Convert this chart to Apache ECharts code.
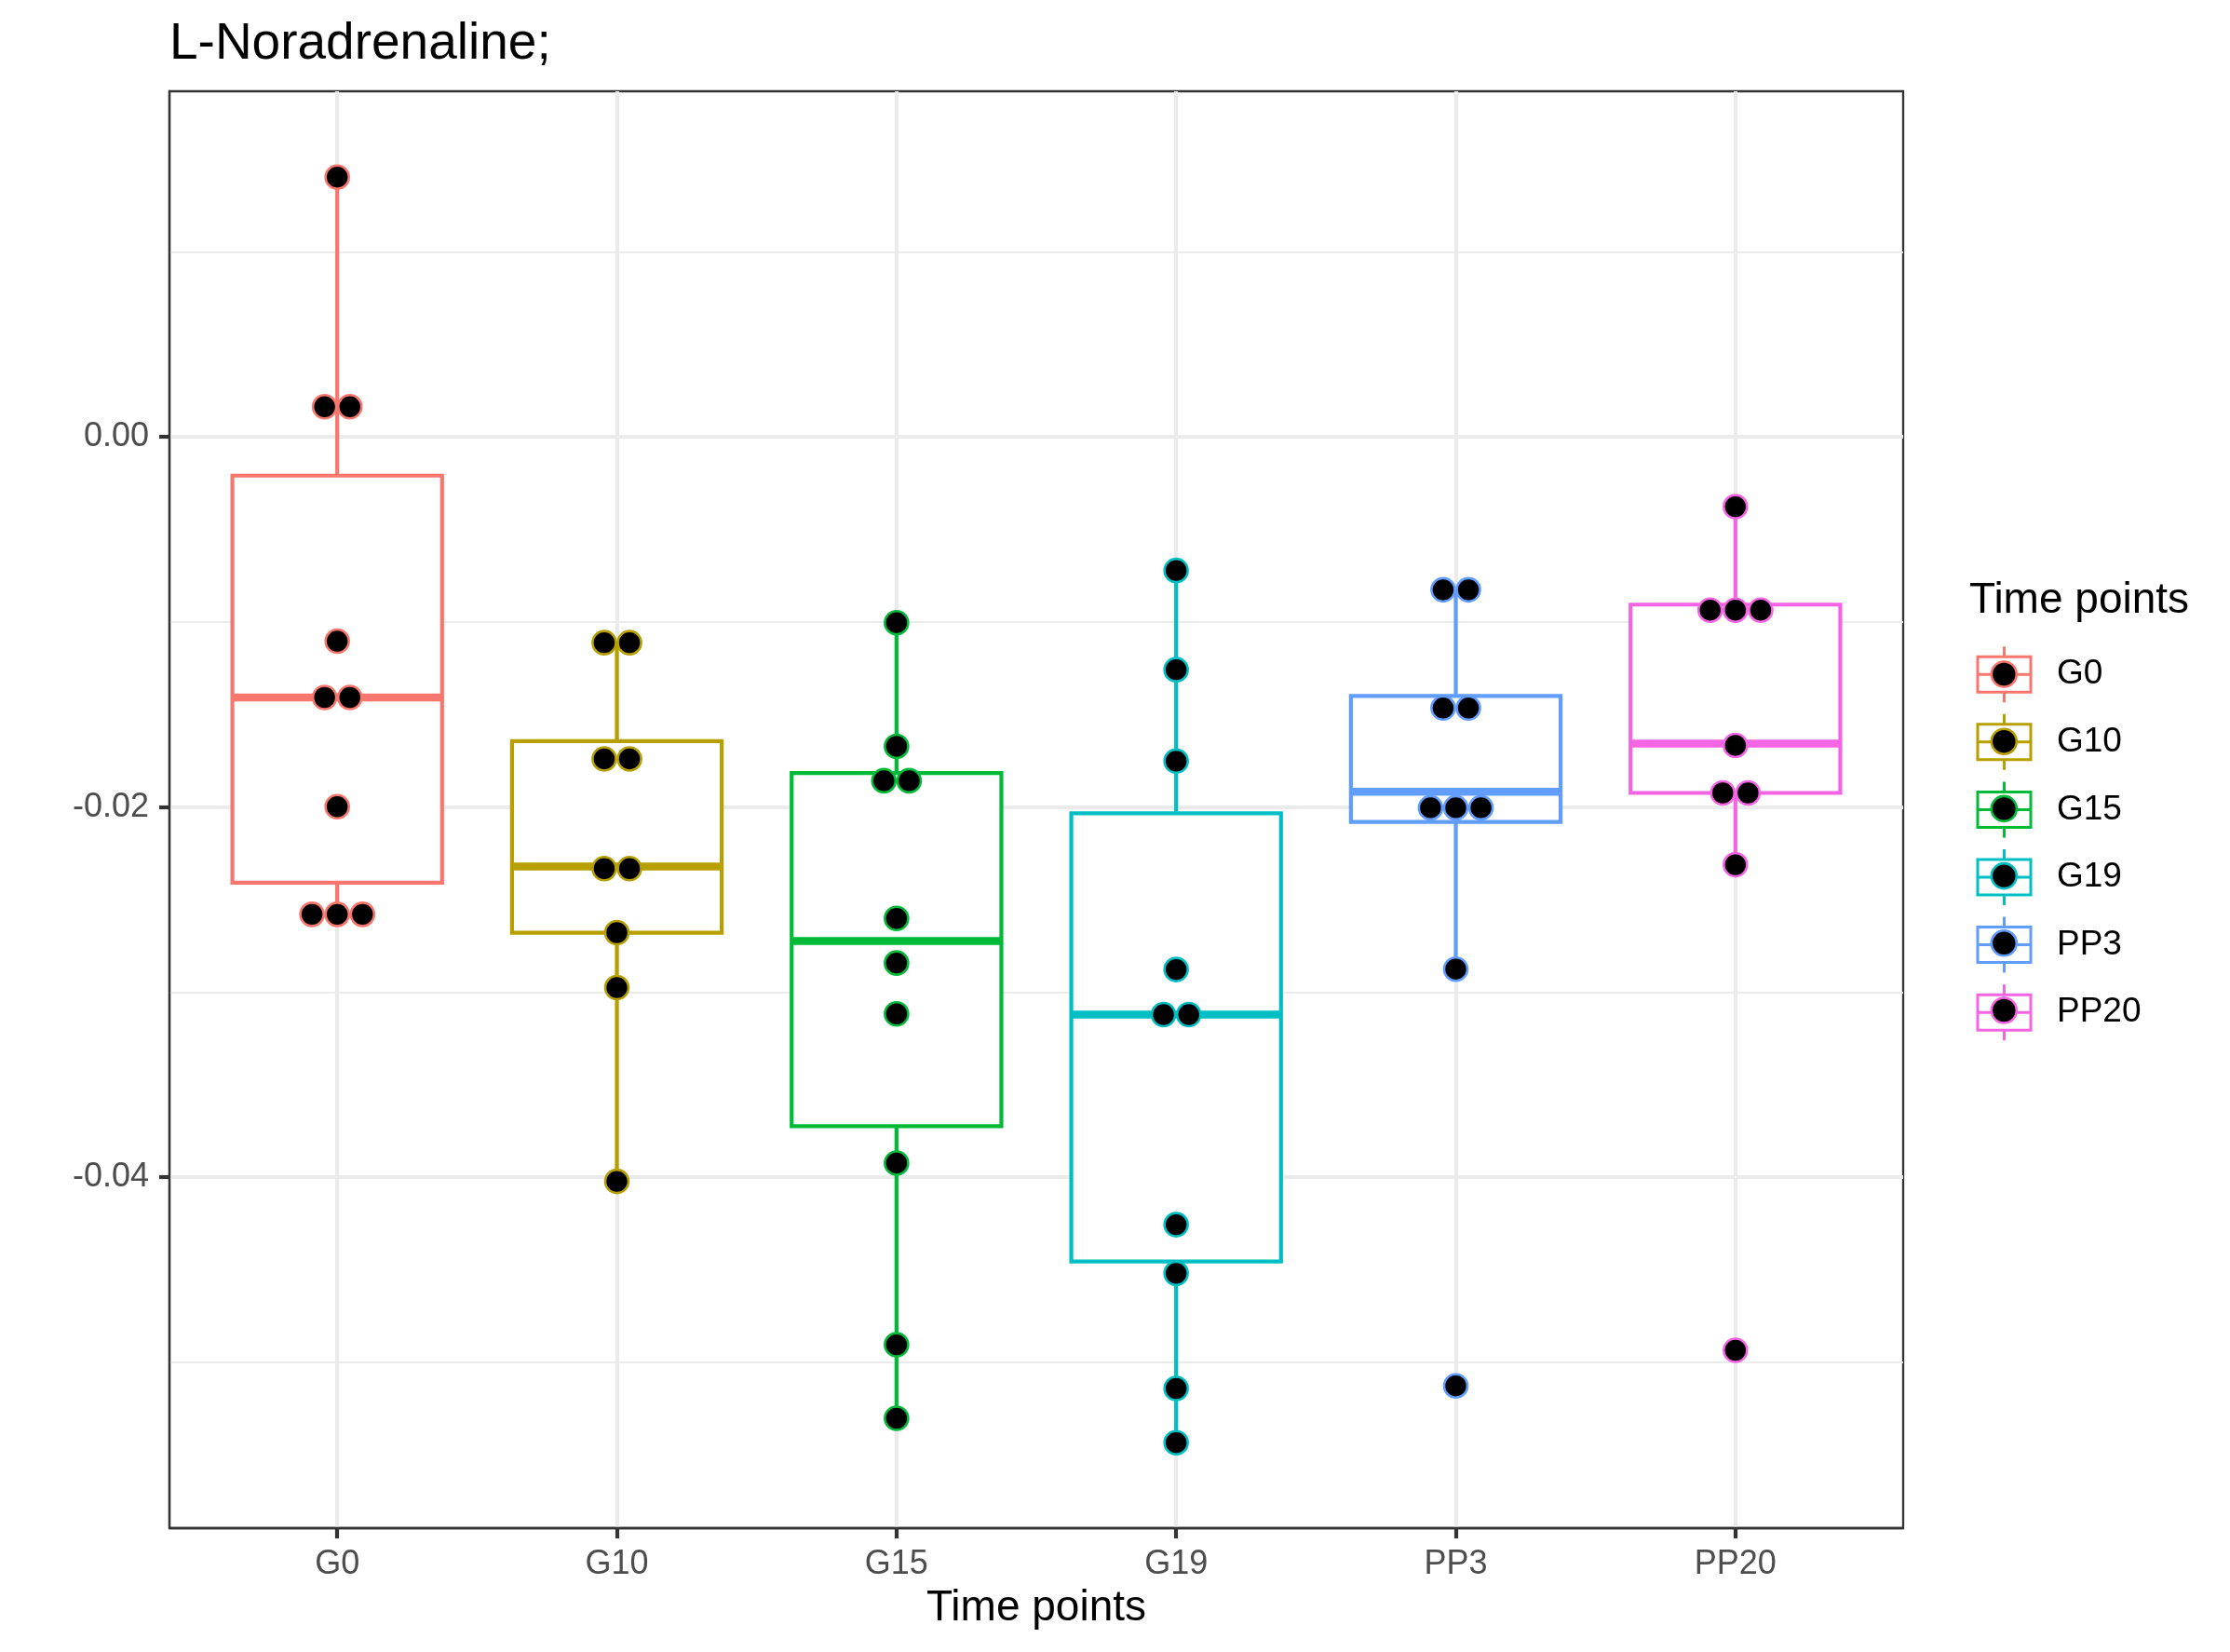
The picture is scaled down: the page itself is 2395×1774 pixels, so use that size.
<!DOCTYPE html>
<html>
<head>
<meta charset="utf-8">
<script src="https://cdn.jsdelivr.net/npm/echarts@6/dist/echarts.min.js"></script>
<style>
html,body{margin:0;padding:0;background:#fff;}
#chart{width:2395px;height:1774px;}
</style>
</head>
<body>
<div id="chart"></div>
<script>
// ---- data ----
const categories = ['G0', 'G10', 'G15', 'G19', 'PP3', 'PP20'];
const colors = ['#F8766D', '#B79F00', '#00BA38', '#00BFC4', '#619CFF', '#F564E3'];

// dot values (binned, as drawn)
const dotsG0   = [0.01404, 0.00163, 0.00163, -0.01104, -0.01408, -0.01408, -0.01998, -0.0258, -0.0258, -0.0258];
const dotsG10  = [-0.01112, -0.01112, -0.0174, -0.0174, -0.02333, -0.02333, -0.02679, -0.02976, -0.04023];
const dotsG15  = [-0.01004, -0.01672, -0.01858, -0.01858, -0.02602, -0.02843, -0.03118, -0.03924, -0.04906, -0.05303];
const dotsG19  = [-0.00722, -0.01258, -0.01752, -0.02878, -0.03122, -0.03122, -0.04257, -0.0452, -0.05142, -0.05435];
const dotsPP3  = [-0.00826, -0.00826, -0.01465, -0.01465, -0.02004, -0.02004, -0.02004, -0.02876, -0.05128];
const dotsPP20 = [-0.00377, -0.00936, -0.00936, -0.00936, -0.01667, -0.01924, -0.01924, -0.02312, -0.04936];

// box statistics: [lower whisker, Q1, median, Q3, upper whisker]
const boxG0   = [-0.0258,  -0.02409, -0.01408, -0.00209, 0.01404];
const boxG10  = [-0.04023, -0.02679, -0.02322, -0.01644, -0.01112];
const boxG15  = [-0.05303, -0.03725, -0.02724, -0.01816, -0.01004];
const boxG19  = [-0.05435, -0.04456, -0.03122, -0.02034, -0.00722];
const boxPP3  = [-0.02876, -0.02081, -0.01917, -0.01400, -0.00826];
const boxPP20 = [-0.02312, -0.01924, -0.01657, -0.00906, -0.00377];

const yTicks = [-0.04, -0.02, 0];
const yMinorTicks = [-0.05, -0.03, -0.01, 0.01];
const yMin = -0.05897, yMax = 0.01868;

// ---- build ----
const allDots = [dotsG0, dotsG10, dotsG15, dotsG19, dotsPP3, dotsPP20];
const allBoxes = [boxG0, boxG10, boxG15, boxG19, boxPP3, boxPP20];
const BOX_WIDTH = 0.75;
const DOT_STEP = 0.0903;
const FONT = 'Liberation Sans, Arial, Helvetica, sans-serif';

function stackDots(vals, xc) {
  const groups = new Map();
  vals.forEach(v => { groups.set(v, (groups.get(v) || 0) + 1); });
  const out = [];
  groups.forEach((k, v) => {
    for (let j = 0; j < k; j++) out.push([xc + (j - (k - 1) / 2) * DOT_STEP, v]);
  });
  return out;
}

const series = [];
categories.forEach((c, i) => {
  const col = colors[i];
  series.push({
    name: c,
    type: 'custom',
    z: 2,
    silent: true,
    itemStyle: { color: col },
    encode: { x: 0, y: [1, 2, 3, 4, 5] },
    data: [[i + 1].concat(allBoxes[i])],
    renderItem: function (params, api) {
      const x = api.value(0);
      const lo = api.coord([x, api.value(1)]);
      const q1 = api.coord([x, api.value(2)]);
      const md = api.coord([x, api.value(3)]);
      const q3 = api.coord([x, api.value(4)]);
      const hi = api.coord([x, api.value(5)]);
      const w = api.size([BOX_WIDTH, 0])[0];
      const lw = 4.2;
      return {
        type: 'group',
        children: [
          { type: 'line', shape: { x1: hi[0], y1: hi[1], x2: q3[0], y2: q3[1] }, style: { stroke: col, lineWidth: lw } },
          { type: 'line', shape: { x1: q1[0], y1: q1[1], x2: lo[0], y2: lo[1] }, style: { stroke: col, lineWidth: lw } },
          { type: 'rect', shape: { x: q1[0] - w / 2, y: q3[1], width: w, height: q1[1] - q3[1] }, style: { fill: '#fff', stroke: col, lineWidth: lw } },
          { type: 'line', shape: { x1: md[0] - w / 2, y1: md[1], x2: md[0] + w / 2, y2: md[1] }, style: { stroke: col, lineWidth: 8.5, lineCap: 'butt' } }
        ]
      };
    }
  });
});
categories.forEach((c, i) => {
  series.push({
    name: c + ' ',
    type: 'scatter',
    z: 3,
    silent: true,
    symbol: 'circle',
    symbolSize: 25,
    itemStyle: { color: '#000', borderColor: colors[i], borderWidth: 2.6, opacity: 1 },
    data: stackDots(allDots[i], i + 1)
  });
});

const boxIcon = 'path://M28.5 0L28.5 11M0 11L57 11L57 49L0 49ZM0 30L57 30M28.5 49L28.5 60';

const option = {
  backgroundColor: '#fff',
  animation: false,
  title: [
    { text: 'L-Noradrenaline;', left: 182, top: 20, padding: 0,
      textStyle: { fontFamily: FONT, fontSize: 55, fontWeight: 'normal', color: '#000', lineHeight: 55 } },
    { text: 'Time points', left: 2115, top: 622, padding: 0,
      textStyle: { fontFamily: FONT, fontSize: 46, fontWeight: 'normal', color: '#000', lineHeight: 46 } }
  ],
  grid: { left: 182, top: 98, width: 1862, height: 1543, show: true, borderColor: '#333333', borderWidth: 2.3, backgroundColor: 'transparent' },
  legend: [
    {
      orient: 'vertical', left: 2122.5, top: 692.7, padding: 0,
      itemWidth: 57, itemHeight: 60, itemGap: 9.6,
      selectedMode: false, symbolKeepAspect: true,
      textStyle: { fontFamily: FONT, fontSize: 37, color: '#000', padding: [0, 0, 0, 23] },
      data: categories.map((c, i) => ({ name: c, icon: boxIcon, itemStyle: { color: '#fff', borderColor: colors[i], borderWidth: 3 } })),
      z: 4
    },
    {
      orient: 'vertical', left: 2137.5, top: 709.2, padding: 0,
      itemWidth: 27, itemHeight: 27, itemGap: 42.6,
      selectedMode: false,
      formatter: function () { return ''; },
      textStyle: { fontSize: 10, lineHeight: 10 },
      data: categories.map((c, i) => ({ name: c + ' ', icon: 'circle', itemStyle: { color: '#000', borderColor: colors[i], borderWidth: 2.6 } })),
      z: 5
    }
  ],
  xAxis: {
    type: 'value', min: 0.4, max: 6.6,
    name: 'Time points', nameLocation: 'middle', nameGap: 63,
    nameTextStyle: { fontFamily: FONT, fontSize: 46, color: '#000', lineHeight: 46 },
    axisLine: { show: true, onZero: false, lineStyle: { color: '#333333', width: 2.3 } },
    axisTick: { show: true, length: 11, lineStyle: { color: '#333333', width: 4.2 }, customValues: [1, 2, 3, 4, 5, 6] },
    axisLabel: { show: true, margin: 21, fontFamily: FONT, fontSize: 36, color: '#4D4D4D', lineHeight: 36,
      customValues: [1, 2, 3, 4, 5, 6], formatter: v => categories[Math.round(v) - 1] || '' },
    splitLine: { show: true, lineStyle: { color: '#EBEBEB', width: 4.2 } }
  },
  yAxis: [
    {
      type: 'value', min: yMin, max: yMax,
      axisLine: { show: true, onZero: false, lineStyle: { color: '#333333', width: 2.3 } },
      axisTick: { show: true, length: 11, lineStyle: { color: '#333333', width: 4.2 }, customValues: yTicks },
      axisLabel: { show: true, margin: 22, fontFamily: FONT, fontSize: 36, color: '#4D4D4D', padding: [6, 0, 0, 0],
        customValues: yTicks, formatter: v => v.toFixed(2) },
      splitLine: { show: true, lineStyle: { color: '#EBEBEB', width: 4.2 } }
    },
    {
      type: 'value', min: yMin, max: yMax, position: 'right',
      axisLine: { show: false },
      axisTick: { show: false, customValues: yMinorTicks },
      axisLabel: { show: false, customValues: yMinorTicks },
      splitLine: { show: true, lineStyle: { color: '#EBEBEB', width: 2.1 } }
    }
  ],
  series: series
};

const chart = echarts.init(document.getElementById('chart'), null, { renderer: 'canvas' });
chart.setOption(option);
</script>
</body>
</html>
